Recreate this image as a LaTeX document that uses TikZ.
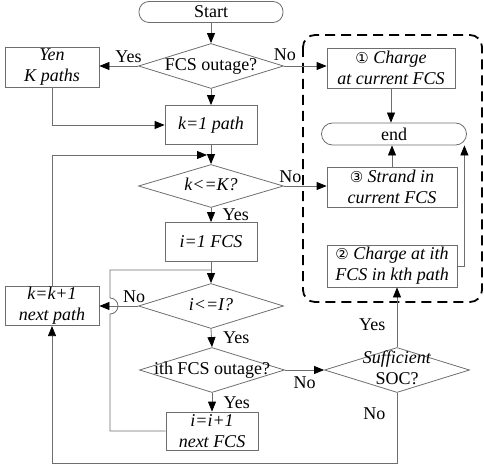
\documentclass[tikz,border=0pt]{standalone}
\usepackage{fontspec}
\setmainfont{Liberation Serif}
\newfontfamily\circfont{DejaVu Sans}
\usetikzlibrary{shapes.geometric,arrows.meta}
\definecolor{linegray}{RGB}{110,110,110}
\newcommand{\dtext}[1]{\makebox[0pt]{\begin{tabular}{@{}c@{}}#1\end{tabular}}}
\newcommand{\cnum}[1]{{\circfont\fontsize{15}{21}\selectfont #1}}

\begin{document}
\begin{tikzpicture}[x=1pt,y=-1pt,font=\fontsize{18}{21}\selectfont,
	box/.style={draw=linegray,line width=0.8pt,minimum width=92pt,minimum height=39pt,inner sep=1pt,align=center},
	wbox/.style={box,minimum width=130pt,minimum height=41pt},
	term/.style={draw=linegray,line width=0.8pt,rounded corners=10pt,minimum width=144pt,minimum height=21pt,inner sep=0pt},
	cond/.style={draw=linegray,line width=0.8pt,diamond,minimum width=145pt,minimum height=45pt,inner sep=0pt},
	arr/.style={draw=linegray,line width=0.8pt,-{Triangle[length=10pt,width=8pt,color=black]}},
	wire/.style={draw=linegray,line width=0.8pt}]
	\useasboundingbox (0,0) rectangle (484,468);
	\draw[dash pattern=on 10pt off 6pt,line width=1.8pt,rounded corners=12pt] (303,35) rectangle (482,302);
	\node[term] (start) at (211,12) {Start};
	\node[cond] (fcs) at (211,66) {\dtext{FCS outage?}};
	\node[box,minimum width=94pt,minimum height=40pt] (yen) at (52,67) {\textit{Yen}\\\textit{K paths}};
	\node[box] (kone) at (211,125) {\textit{k=1 path}};
	\node[cond,minimum height=43pt] (kK) at (211,186) {\dtext{\textit{k<=K?}}};
	\node[box] (ione) at (211,242) {\textit{i=1 FCS}};
	\node[cond] (iI) at (211,306) {\dtext{\textit{i<=I?}}};
	\node[box,minimum width=94pt,minimum height=38pt] (knext) at (52,306) {\textit{k=k+1}\\\textit{next path}};
	\node[cond] (ifcs) at (212,370) {\dtext{ith FCS outage?}};
	\node[box,minimum height=38pt] (inext) at (212,431) {\textit{i=i+1}\\\textit{next FCS}};
	\node[cond] (soc) at (397,370) {\dtext{\textit{Sufficient}\\SOC?}};
	\node[wbox,minimum width=128pt,minimum height=40pt] (chg1) at (391,68) {\cnum{①} \textit{Charge}\\\textit{at current FCS}};
	\node[term,minimum width=145pt,minimum height=22pt,rounded corners=11pt] (endn) at (394,134) {end};
	\node[wbox,minimum height=40pt] (strand) at (392,187) {\cnum{③} \textit{Strand in}\\\textit{current FCS}};
	\node[wbox,minimum height=42pt] (chg2) at (392,266) {\cnum{②} \textit{Charge at ith}\\\textit{FCS in kth path}};
	\coordinate (kjoin) at (207,155);
	\coordinate (hop) at (110,306);
	\coordinate (ijoin) at (211,270);
	\draw
	(start.south) edge[arr] (fcs.north)
	(fcs.west) edge[arr] node[above,pos=0.25] {Yes} (fcs.west -| yen.east)
	(fcs.east) edge[arr] node[above=2pt,pos=0.02] {No} (fcs.east -| chg1.west)
	(fcs.south) edge[arr] (kone.north)
	(kone.south) edge[arr] (kK.north)
	(kK.east) edge[arr] node[above,pos=0.15] {No} (kK.east -| strand.west)
	(kK.south) edge[arr] node[right=8pt] {Yes} (ione.north)
	(ione.south) edge[arr] (iI.north)
	(iI.west) edge[arr] node[above,pos=0.1] {No} (knext.east)
	(iI.south) edge[arr] node[right=8pt] {Yes} (ifcs.north)
	(ifcs.south) edge[arr] node[right=8pt] {Yes} (inext.north)
	(ifcs.east) edge[arr] node[below=3pt] {No} (soc.west)
	(soc.north) edge[arr] node[left=8pt,pos=0.37] {Yes} (soc.north |- chg2.south)
	(chg1.south) edge[arr] (chg1.south |- endn.north)
	(strand.north) edge[arr] (strand.north |- endn.south);
	\draw[arr] (yen.south) |- (kone.west);
	\draw[arr] (knext.north) |- (kjoin);
	\draw[wire] (inext.west) -| ([yshift=-8pt]hop) arc[start angle=-90,end angle=90,radius=8pt] |- (ijoin);
	\draw[arr] (soc.south) -- node[left=8pt,pos=0.3] {No} ++(0,70) -| (knext.south);
	\draw[arr] (chg2.east) -- ++(7,0) coordinate (c2turn) -- (c2turn |- endn.south);
\end{tikzpicture}
\end{document}
